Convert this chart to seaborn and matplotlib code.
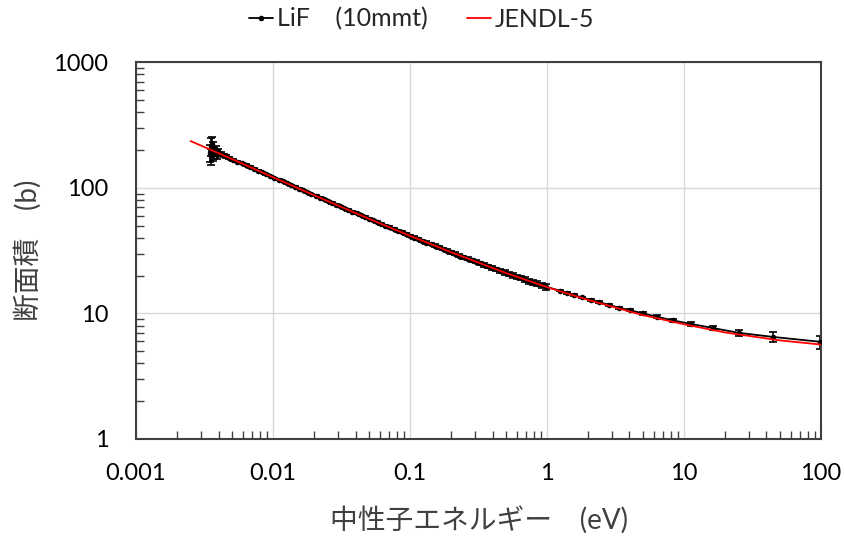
import numpy as np
import matplotlib
matplotlib.use("Agg")
import matplotlib.pyplot as plt
import seaborn as sns
from matplotlib.ticker import LogLocator, FixedLocator, NullFormatter

# 測定データ (LiF 10mmt) : log10(E) と断面積
meas_log_e = [-2.46, -2.455, -2.45, -2.445, -2.44, -2.435, -2.43, -2.42, -2.41, -2.40,
              -2.38, -2.36, -2.34, -2.32, -2.29, -2.26, -2.23, -2.20, -2.17, -2.14,
              -2.11, -2.08, -2.05, -2.02, -1.99, -1.96, -1.93, -1.90, -1.87, -1.84,
              -1.81, -1.78, -1.75, -1.72, -1.69, -1.66, -1.63, -1.60, -1.57, -1.54,
              -1.51, -1.48, -1.45, -1.42, -1.39, -1.36, -1.33, -1.30, -1.27, -1.24,
              -1.21, -1.18, -1.15, -1.12, -1.09, -1.06, -1.03, -1.00, -0.97, -0.94,
              -0.91, -0.88, -0.85, -0.82, -0.79, -0.76, -0.73, -0.70, -0.67, -0.64,
              -0.61, -0.58, -0.55, -0.52, -0.49, -0.46, -0.43, -0.40, -0.37, -0.34,
              -0.31, -0.28, -0.25, -0.22, -0.19, -0.16, -0.13, -0.10, -0.07, -0.04,
              -0.01]
meas_sigma = [190, 215, 178, 225, 185, 208, 188, 200, 182, 195,
              186, 182, 178, 174, 168, 162, 157, 152, 147, 142,
              137, 133, 128, 124, 120, 116, 112.5, 109, 105, 102,
              98.5, 95.3, 92.2, 89.2, 86.4, 83.6, 80.9, 78.3, 75.8, 73.4,
              71.1, 68.8, 66.7, 64.6, 62.5, 60.5, 58.6, 56.8, 55.0, 53.3,
              51.7, 50.1, 48.5, 47.0, 45.6, 44.2, 42.8, 41.5, 40.2, 39.0,
              37.8, 36.7, 35.6, 34.6, 33.5, 32.6, 31.6, 30.7, 29.8, 28.9,
              28.1, 27.3, 26.5, 25.8, 25.1, 24.4, 23.7, 23.0, 22.4, 21.8,
              21.2, 20.7, 20.1, 19.6, 19.1, 18.6, 18.1, 17.6, 17.2, 16.75,
              16.3]
meas_err = [30, 35, 25, 30, 22, 25, 18, 15, 12, 10,
            6, 5, 4, 3, 3, 2.5, 2, 2, 1.8, 1.6] + [0.8] * 71

# 高エネルギー側 (点がまばら)
hi_energy = [1.24, 1.40, 1.57, 1.80, 2.09, 2.40, 2.84, 3.36, 4.04, 5.02,
             6.36, 8.3, 11.2, 16.3, 25.2, 44.6, 98]
hi_sigma = [15.2, 14.6, 14.0, 13.4, 12.8, 12.3, 11.7, 11.1, 10.6, 10.0,
            9.4, 8.8, 8.25, 7.65, 7.0, 6.5, 5.95]
hi_err = [0.2, 0.2, 0.2, 0.2, 0.2, 0.2, 0.2, 0.2, 0.2, 0.25,
          0.25, 0.25, 0.3, 0.3, 0.35, 0.55, 0.7]

# JENDL-5 評価値
jendl_energy = [0.0025, 0.005, 0.01, 0.02, 0.05, 0.1, 0.2, 0.5,
                1, 2, 5, 10, 20, 50, 100]
jendl_sigma = [236, 170, 121.5, 87.2, 56.8, 41.5, 30.7, 21.0,
               16.2, 12.8, 9.7, 8.2, 7.05, 6.1, 5.65]

energy = np.concatenate([10 ** np.array(meas_log_e), hi_energy])
sigma = np.concatenate([meas_sigma, hi_sigma])
err = np.concatenate([meas_err, hi_err])

sns.set_theme(style="white")
plt.rcParams["font.family"] = ["Lato", "Noto Sans CJK JP", "DejaVu Sans"]

fig = plt.figure(figsize=(8.45, 5.37), dpi=100)
ax = fig.add_axes([0.161, 0.1825, 0.8106, 0.7015])

ax.errorbar(energy, sigma, yerr=err, fmt="none", ecolor="black",
            elinewidth=1.2, capsize=3, capthick=1.2, zorder=2)
sns.lineplot(x=energy, y=sigma, ax=ax, color="black", linewidth=1.3,
             marker="o", markersize=4, markeredgewidth=0, sort=False,
             label="LiF    (10mmt)", zorder=3)
sns.lineplot(x=jendl_energy, y=jendl_sigma, ax=ax, color="red",
             linewidth=1.3, sort=False, label="JENDL-5", zorder=4)

ax.set_xscale("log")
ax.set_yscale("log")
ax.set_xlim(0.001, 100)
ax.set_ylim(1, 1000)

ax.xaxis.set_major_locator(FixedLocator([0.001, 0.01, 0.1, 1, 10, 100]))
ax.yaxis.set_major_locator(FixedLocator([1, 10, 100, 1000]))
ax.set_xticklabels(["0.001", "0.01", "0.1", "1", "10", "100"])
ax.set_yticklabels(["1", "10", "100", "1000"])
ax.xaxis.set_minor_locator(LogLocator(base=10, subs=np.arange(2, 10), numticks=20))
ax.yaxis.set_minor_locator(LogLocator(base=10, subs=np.arange(2, 10), numticks=20))
ax.xaxis.set_minor_formatter(NullFormatter())
ax.yaxis.set_minor_formatter(NullFormatter())

ax.grid(True, which="major", color="#d9d9d9", linewidth=1.0)
ax.tick_params(which="major", length=0, labelsize=17, colors="black")
ax.tick_params(axis="x", which="major", pad=17)
ax.tick_params(axis="y", which="major", pad=20)
ax.tick_params(which="minor", direction="in", length=6, width=1.0,
               color="#404040", bottom=True, left=True, top=False, right=False)
for sp in ax.spines.values():
    sp.set_color("#404040")
    sp.set_linewidth(1.5)

ax.set_xlabel("中性子エネルギー　(eV)", fontsize=20, color="#404040", labelpad=16)
ax.set_ylabel("断面積　(b)", fontsize=20, color="#404040", labelpad=8)

ax.legend(loc="center", bbox_to_anchor=(0.417, 1.115), ncol=2, frameon=False,
          fontsize=18, handlelength=0.95, handletextpad=0.15, columnspacing=1.6)

fig.savefig("out.png", dpi=100)
